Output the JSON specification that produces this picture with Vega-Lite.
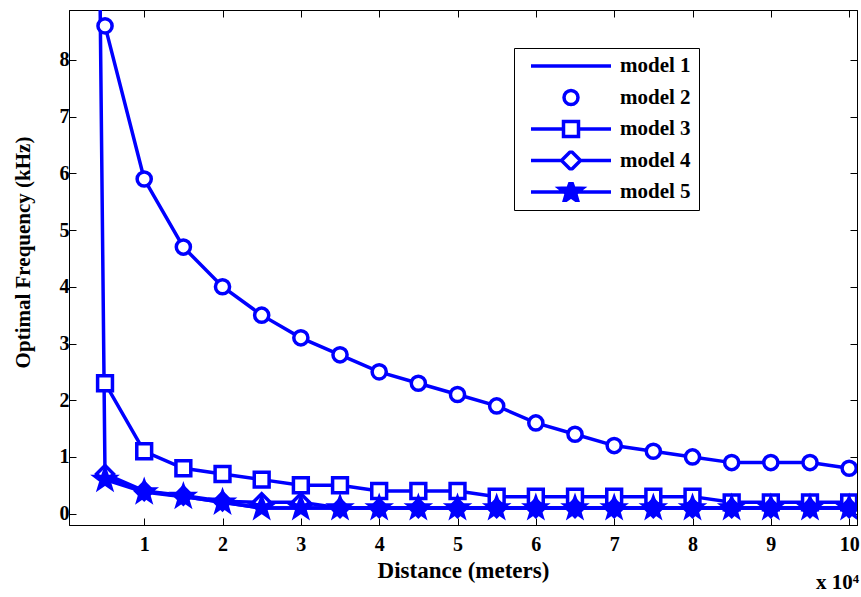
{
  "$schema": "https://vega.github.io/schema/vega-lite/v6.json",
  "width": 788,
  "height": 515,
  "autosize": {"type": "none"},
  "padding": {"left": 69, "top": 10, "right": 4, "bottom": 72},
  "background": "white",
  "config": {
    "view": {"stroke": "black", "strokeWidth": 1},
    "axis": {
      "labelFont": "Liberation Serif",
      "labelFontWeight": "bold",
      "labelFontSize": 20,
      "labelColor": "black",
      "titleFont": "Liberation Serif",
      "titleFontWeight": "bold",
      "titleColor": "black",
      "grid": false,
      "tickColor": "black",
      "domainColor": "black",
      "tickSize": -7,
      "tickWidth": 1
    }
  },
  "title": {
    "text": "x 10⁴",
    "orient": "bottom",
    "anchor": "end",
    "font": "Liberation Serif",
    "fontWeight": "bold",
    "fontSize": 21,
    "color": "black",
    "offset": -10
  },
  "data": {
    "values": [
      {"model": "model 1", "x": 0.4, "y": 14},
      {"model": "model 1", "x": 0.5, "y": 0.65},
      {"model": "model 1", "x": 1, "y": 0.4},
      {"model": "model 1", "x": 1.5, "y": 0.3},
      {"model": "model 1", "x": 2, "y": 0.2},
      {"model": "model 1", "x": 2.5, "y": 0.1},
      {"model": "model 1", "x": 3, "y": 0.1},
      {"model": "model 1", "x": 3.5, "y": 0.1},
      {"model": "model 1", "x": 4, "y": 0.1},
      {"model": "model 1", "x": 4.5, "y": 0.1},
      {"model": "model 1", "x": 5, "y": 0.1},
      {"model": "model 1", "x": 5.5, "y": 0.1},
      {"model": "model 1", "x": 6, "y": 0.1},
      {"model": "model 1", "x": 6.5, "y": 0.1},
      {"model": "model 1", "x": 7, "y": 0.1},
      {"model": "model 1", "x": 7.5, "y": 0.1},
      {"model": "model 1", "x": 8, "y": 0.1},
      {"model": "model 1", "x": 8.5, "y": 0.1},
      {"model": "model 1", "x": 9, "y": 0.1},
      {"model": "model 1", "x": 9.5, "y": 0.1},
      {"model": "model 1", "x": 10, "y": 0.1},
      {"model": "model 2", "x": 0.5, "y": 8.6},
      {"model": "model 2", "x": 1, "y": 5.9},
      {"model": "model 2", "x": 1.5, "y": 4.7},
      {"model": "model 2", "x": 2, "y": 4.0},
      {"model": "model 2", "x": 2.5, "y": 3.5},
      {"model": "model 2", "x": 3, "y": 3.1},
      {"model": "model 2", "x": 3.5, "y": 2.8},
      {"model": "model 2", "x": 4, "y": 2.5},
      {"model": "model 2", "x": 4.5, "y": 2.3},
      {"model": "model 2", "x": 5, "y": 2.1},
      {"model": "model 2", "x": 5.5, "y": 1.9},
      {"model": "model 2", "x": 6, "y": 1.6},
      {"model": "model 2", "x": 6.5, "y": 1.4},
      {"model": "model 2", "x": 7, "y": 1.2},
      {"model": "model 2", "x": 7.5, "y": 1.1},
      {"model": "model 2", "x": 8, "y": 1.0},
      {"model": "model 2", "x": 8.5, "y": 0.9},
      {"model": "model 2", "x": 9, "y": 0.9},
      {"model": "model 2", "x": 9.5, "y": 0.9},
      {"model": "model 2", "x": 10, "y": 0.8},
      {"model": "model 3", "x": 0.5, "y": 2.3},
      {"model": "model 3", "x": 1, "y": 1.1},
      {"model": "model 3", "x": 1.5, "y": 0.8},
      {"model": "model 3", "x": 2, "y": 0.7},
      {"model": "model 3", "x": 2.5, "y": 0.6},
      {"model": "model 3", "x": 3, "y": 0.5},
      {"model": "model 3", "x": 3.5, "y": 0.5},
      {"model": "model 3", "x": 4, "y": 0.4},
      {"model": "model 3", "x": 4.5, "y": 0.4},
      {"model": "model 3", "x": 5, "y": 0.4},
      {"model": "model 3", "x": 5.5, "y": 0.3},
      {"model": "model 3", "x": 6, "y": 0.3},
      {"model": "model 3", "x": 6.5, "y": 0.3},
      {"model": "model 3", "x": 7, "y": 0.3},
      {"model": "model 3", "x": 7.5, "y": 0.3},
      {"model": "model 3", "x": 8, "y": 0.3},
      {"model": "model 3", "x": 8.5, "y": 0.2},
      {"model": "model 3", "x": 9, "y": 0.2},
      {"model": "model 3", "x": 9.5, "y": 0.2},
      {"model": "model 3", "x": 10, "y": 0.2},
      {"model": "model 4", "x": 0.5, "y": 0.7},
      {"model": "model 4", "x": 1, "y": 0.4},
      {"model": "model 4", "x": 1.5, "y": 0.32},
      {"model": "model 4", "x": 2, "y": 0.22},
      {"model": "model 4", "x": 2.5, "y": 0.2},
      {"model": "model 4", "x": 3, "y": 0.2},
      {"model": "model 4", "x": 3.5, "y": 0.1},
      {"model": "model 4", "x": 4, "y": 0.1},
      {"model": "model 4", "x": 4.5, "y": 0.1},
      {"model": "model 4", "x": 5, "y": 0.1},
      {"model": "model 4", "x": 5.5, "y": 0.1},
      {"model": "model 4", "x": 6, "y": 0.1},
      {"model": "model 4", "x": 6.5, "y": 0.1},
      {"model": "model 4", "x": 7, "y": 0.1},
      {"model": "model 4", "x": 7.5, "y": 0.1},
      {"model": "model 4", "x": 8, "y": 0.1},
      {"model": "model 4", "x": 8.5, "y": 0.1},
      {"model": "model 4", "x": 9, "y": 0.1},
      {"model": "model 4", "x": 9.5, "y": 0.1},
      {"model": "model 4", "x": 10, "y": 0.1},
      {"model": "model 5", "x": 0.5, "y": 0.6},
      {"model": "model 5", "x": 1, "y": 0.38},
      {"model": "model 5", "x": 1.5, "y": 0.3},
      {"model": "model 5", "x": 2, "y": 0.2},
      {"model": "model 5", "x": 2.5, "y": 0.1},
      {"model": "model 5", "x": 3, "y": 0.1},
      {"model": "model 5", "x": 3.5, "y": 0.1},
      {"model": "model 5", "x": 4, "y": 0.1},
      {"model": "model 5", "x": 4.5, "y": 0.1},
      {"model": "model 5", "x": 5, "y": 0.1},
      {"model": "model 5", "x": 5.5, "y": 0.1},
      {"model": "model 5", "x": 6, "y": 0.1},
      {"model": "model 5", "x": 6.5, "y": 0.1},
      {"model": "model 5", "x": 7, "y": 0.1},
      {"model": "model 5", "x": 7.5, "y": 0.1},
      {"model": "model 5", "x": 8, "y": 0.1},
      {"model": "model 5", "x": 8.5, "y": 0.1},
      {"model": "model 5", "x": 9, "y": 0.1},
      {"model": "model 5", "x": 9.5, "y": 0.1},
      {"model": "model 5", "x": 10, "y": 0.1}
    ]
  },
  "layer": [
    {
      "mark": {"type": "line", "color": "#0000ff", "strokeWidth": 3.5, "clip": true},
      "encoding": {
        "x": {
          "field": "x", "type": "quantitative",
          "scale": {"domain": [0.04, 10.1], "nice": false, "zero": false},
          "axis": {"orient": "bottom", "values": [1,2,3,4,5,6,7,8,9,10], "format": "d", "title": "Distance (meters)", "titleFontSize": 23, "labelPadding": 16, "titlePadding": 5}
        },
        "y": {
          "field": "y", "type": "quantitative",
          "scale": {"domain": [-0.2, 8.88], "nice": false, "zero": false},
          "axis": {"orient": "left", "values": [0,1,2,3,4,5,6,7,8], "format": "d", "title": "Optimal Frequency (kHz)", "titleFontSize": 21, "labelPadding": 7, "titlePadding": 26, "titleY": 242}
        },
        "detail": {"field": "model"}
      }
    },
    {
      "transform": [{"filter": "datum.model !== 'model 1'"}],
      "mark": {"type": "point", "filled": true, "stroke": "#0000ff", "strokeWidth": 3.5, "size": 200, "opacity": 1, "clip": true},
      "encoding": {
        "x": {"field": "x", "type": "quantitative", "axis": null},
        "y": {"field": "y", "type": "quantitative", "axis": null},
        "shape": {
          "field": "model", "type": "nominal",
          "scale": {
            "domain": ["model 2", "model 3", "model 4", "model 5"],
            "range": [
              "circle",
              "M-1.05,-1.05L1.05,-1.05L1.05,1.05L-1.05,1.05Z",
              "M0,-1.2L1.2,0L0,1.2L-1.2,0Z",
              "M0,-1.45L0.34,-0.47L1.38,-0.448L0.551,0.18L0.852,1.173L0,0.58L-0.852,1.173L-0.551,0.18L-1.38,-0.448L-0.34,-0.47Z"
            ]
          },
          "legend": null
        },
        "fill": {
          "condition": {"test": "datum.model === 'model 5'", "value": "#0000ff"},
          "value": "white"
        }
      }
    },
    {
      "mark": {"type": "point", "filled": true, "strokeWidth": 3.5, "size": 400, "opacity": 1, "clip": true},
      "encoding": {
        "x": {
          "datum": -100, "type": "quantitative",
          "axis": {"orient": "top", "labels": false, "title": null, "values": [1,2,3,4,5,6,7,8,9,10]}
        },
        "y": {
          "datum": -100, "type": "quantitative",
          "axis": {"orient": "right", "labels": false, "title": null, "values": [0,1,2,3,4,5,6,7,8]}
        },
        "shape": {
          "field": "model", "type": "nominal",
          "scale": {
            "domain": ["model 1", "model 2", "model 3", "model 4", "model 5"],
            "range": [
              "M-4,0L4,0",
              "M-0.7,0A0.7,0.7 0 1,0 0.7,0A0.7,0.7 0 1,0 -0.7,0Z",
              "M-4,0L-0.75,0M0.75,0L4,0M-0.75,-0.75L0.75,-0.75L0.75,0.75L-0.75,0.75Z",
              "M-4,0L-0.95,0M0.95,0L4,0M0,-0.95L0.95,0L0,0.95L-0.95,0Z",
              "M-4,0L4,0M0,-1.2L0.289,-0.397L1.141,-0.371L0.466,0.151L0.705,0.971L0,0.49L-0.705,0.971L-0.466,0.151L-1.141,-0.371L-0.289,-0.397Z"
            ]
          },
          "legend": {
            "title": null, "orient": "none", "legendX": 445, "legendY": 38,
            "labelFont": "Liberation Serif", "labelFontWeight": "bold", "labelFontSize": 21, "labelColor": "black",
            "symbolSize": 400, "symbolOffset": 37, "labelOffset": 37, "rowPadding": 10.5, "padding": 8, "clipHeight": 20,
            "strokeColor": "black", "fillColor": "white", "symbolStrokeWidth": 3.5
          }
        },
        "fill": {
          "field": "model", "type": "nominal",
          "scale": {"domain": ["model 1", "model 2", "model 3", "model 4", "model 5"], "range": ["white", "white", "white", "white", "#0000ff"]},
          "legend": {
            "title": null, "orient": "none", "legendX": 445, "legendY": 38,
            "labelFont": "Liberation Serif", "labelFontWeight": "bold", "labelFontSize": 21, "labelColor": "black",
            "symbolSize": 400, "symbolOffset": 37, "labelOffset": 37, "rowPadding": 10.5, "padding": 8, "clipHeight": 20,
            "strokeColor": "black", "fillColor": "white", "symbolStrokeWidth": 3.5
          }
        },
        "stroke": {
          "field": "model", "type": "nominal",
          "scale": {"domain": ["model 1", "model 2", "model 3", "model 4", "model 5"], "range": ["#0000ff", "#0000ff", "#0000ff", "#0000ff", "#0000ff"]},
          "legend": {
            "title": null, "orient": "none", "legendX": 445, "legendY": 38,
            "labelFont": "Liberation Serif", "labelFontWeight": "bold", "labelFontSize": 21, "labelColor": "black",
            "symbolSize": 400, "symbolOffset": 37, "labelOffset": 37, "rowPadding": 10.5, "padding": 8, "clipHeight": 20,
            "strokeColor": "black", "fillColor": "white", "symbolStrokeWidth": 3.5
          }
        }
      }
    }
  ],
  "resolve": {
    "scale": {"shape": "independent", "fill": "independent", "stroke": "independent"},
    "axis": {"x": "independent", "y": "independent"}
  }
}
